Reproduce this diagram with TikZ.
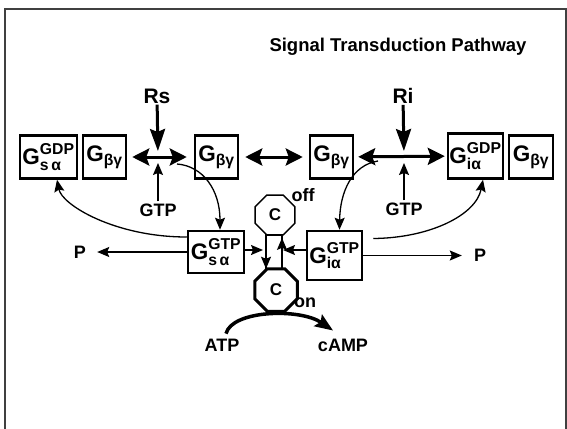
\documentclass[tikz,border=0pt]{standalone}
\usepackage{amsmath}
\usepackage{fontspec}
\setmainfont{Liberation Sans}
\usetikzlibrary{arrows.meta, shapes.geometric}
\tikzset{
  every picture/.style={font=\bfseries},
  prot/.style={draw, line width=2.5pt, inner sep=0pt, minimum width=#1, minimum height=43pt, font=\fontsize{22.5}{23}\selectfont\bfseries},
  prot/.default=43pt,
  lbl/.style={font=\fontsize{18}{18}\selectfont\bfseries, inner sep=2pt},
  recep/.style={font=\fontsize{21}{21}\selectfont\bfseries, inner sep=1pt},
  enzyme/.style={draw, regular polygon, regular polygon sides=8, minimum size=#1, inner sep=0pt, outer sep=0pt, font=\fontsize{17}{17}\selectfont\bfseries},
  tarrow/.style={-{Stealth[length=12pt, width=10pt, inset=2pt]}, line width=1.3pt},
  darrow/.style={{Stealth[length=17pt, width=17pt, inset=3pt]}-{Stealth[length=17pt, width=17pt, inset=3pt]}, line width=3pt},
  rarrow/.style={-{Stealth[length=22pt, width=15pt, inset=3pt]}, line width=3pt},
}

\begin{document}
\begin{tikzpicture}[x=1pt, y=-1pt]
  \useasboundingbox (0,0) rectangle (567,428);
  \draw[line width=2pt, black!75] (5,440) -- (5,9) -- (565.5,9) -- (565.5,440);
  \node[lbl, font=\fontsize{18.5}{19}\selectfont\bfseries] (title) at (398,47) {Signal Transduction Pathway};
  % membrane row
  \node[prot=57pt] (gsdp) at (48.5,157) {$\text{G}^{\text{GDP}}_{\text{s\,α}}$};
  \node[prot] (gby1) at (104.5,157) {$\text{G}_{\text{βγ}}$};
  \node[prot] (gby2) at (216.5,157) {$\text{G}_{\text{βγ}}$};
  \node[prot] (gby3) at (331.5,157) {$\text{G}_{\text{βγ}}$};
  \node[prot=55pt, minimum height=45pt] (gidp) at (475.5,156) {$\text{G}^{\text{GDP}}_{\text{iα}}$};
  \node[prot=44pt] (gby4) at (531,157) {$\text{G}_{\text{βγ}}$};
  % receptors and GTP
  \node[recep] (rs) at (157,96) {Rs};
  \node[recep] (ri) at (403,96) {Ri};
  \node[lbl] (gtps) at (158,210) {GTP};
  \node[lbl] (gtpi) at (404,209) {GTP};
  \coordinate (js) at (158,157);
  \coordinate (ji) at (404,157);
  \draw[darrow, shorten <=5pt, shorten >=7pt] (gby1) -- (gby2);
  \draw[darrow, shorten <=6pt, shorten >=6pt] (gby2) -- (gby3);
  \draw[darrow, shorten <=4pt, shorten >=2pt] (gby3) -- (gidp);
  \draw[rarrow, shorten >=6pt] (rs) -- (js);
  \draw[rarrow, shorten >=6pt] (ri) -- (ji);
  \draw[tarrow, shorten >=6pt] (gtps) -- (js);
  \draw[tarrow, shorten >=6pt] (gtpi) -- (ji);
  % active alpha subunits
  \node[prot=56pt, minimum height=42pt] (gstp) at (216,252) {$\text{G}^{\text{GTP}}_{\text{s\,α}}$};
  \node[prot=55pt, minimum height=49pt] (gitp) at (334.5,255.5) {$\text{G}^{\text{GTP}}_{\text{iα}}$};
  \node[lbl] (pl) at (80,252) {P};
  \node[lbl] (pr) at (480,255.5) {P};
  \draw[tarrow, shorten >=9pt] (gstp.west) -- (pl.east);
  \draw[tarrow, shorten >=10pt] (gitp.east) -- (pr.west);
  \coordinate (s1) at (177,164);
  \coordinate (s2) at (378,161);
  \draw[tarrow] (s1) .. controls (203,166) and (220,190) .. ([xshift=4pt]gstp.north);
  \draw[tarrow] ([yshift=15pt]gstp.west) .. controls (115,237) and (62,205) .. ([xshift=8.5pt]gsdp.south);
  \draw[tarrow] (s2) .. controls (352,165) and (340,192) .. ([xshift=5pt]gitp.north);
  \draw[tarrow] ([xshift=10pt, yshift=17pt]gitp.east) .. controls (430,238) and (476,215) .. ([xshift=7.5pt]gidp.south);
  % adenylyl cyclase
  \node[enzyme=43pt, line width=1.3pt] (coff) at (275,215) {C};
  \node[enzyme=46pt, line width=3pt] (con) at (276,290) {C};
  \node[lbl] (off) at (303,195) {off};
  \node[lbl] (on) at (305,303) {on};
  \draw[line width=1.3pt] ([xshift=-9pt]coff.south) rectangle ([xshift=6pt]con.north);
  \draw[tarrow] ([xshift=-9pt]coff.south) -- ([xshift=-10pt]con.north);
  \draw[tarrow] ([xshift=6pt]con.north) -- ([xshift=7pt, yshift=-3pt]coff.south);
  \coordinate (rl) at (263,250);
  \coordinate (rr) at (283,250);
  \draw[tarrow] (gstp.east |- rl) -- (rl);
  \draw[tarrow] (gitp.west |- rr) -- (rr);
  % ATP to cAMP
  \node[lbl] (atp) at (222,345) {ATP};
  \node[lbl] (camp) at (343,345) {cAMP};
  \draw[line width=3.5pt, -{Stealth[length=18pt, width=14pt, inset=3pt]}] ([xshift=4pt, yshift=3pt]atp.north) .. controls (232,310) and (300,308) .. ([xshift=-10pt, yshift=6pt]camp.north);
\end{tikzpicture}
\end{document}
